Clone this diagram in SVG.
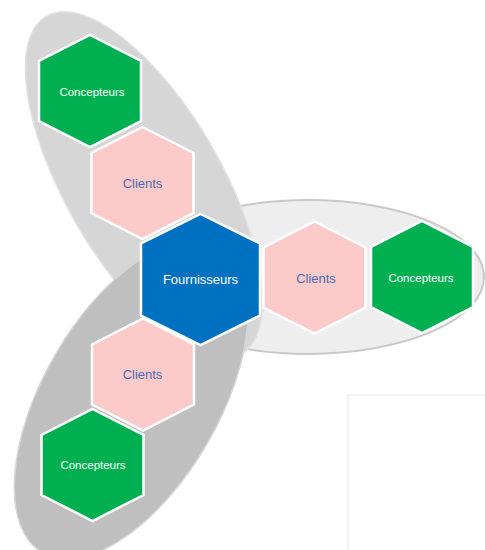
<svg xmlns="http://www.w3.org/2000/svg" width="485" height="550" viewBox="0 0 485 550">
<style>
.hex{stroke:#ffffff;stroke-width:2.5;stroke-linejoin:miter}
.green{fill:#00b050}
.pink{fill:#fdcaca}
.blue{fill:#0070c0}
.lbl{font-family:"Liberation Sans",Arial,sans-serif;text-anchor:middle}
.w{fill:#ffffff;font-size:11.5px}
.c{fill:#4a6cb3;font-size:13px}
.f{fill:#ffffff;font-size:13px}
</style>
<defs>
<path id="hs" d="M0,-56 L51,-30 L51,30 L0,56 L-51,30 L-51,-30 Z"/>
<path id="hb" d="M0,-65.5 L59.5,-36 L59.5,36 L0,65.5 L-59.5,36 L-59.5,-36 Z"/>
</defs>
<rect width="485" height="550" fill="#ffffff"/>
<path d="M348,550 L348,395 L485,395" fill="none" stroke="#f1f1f1" stroke-width="1.5"/>
<g id="zones">
<ellipse cx="308" cy="277" rx="176" ry="77" fill="#eeeeee" stroke="#c9c9c9" stroke-width="2"/>
<ellipse cx="0" cy="0" rx="195" ry="78" transform="translate(144,185) rotate(60)" fill="#d6d6d6" stroke="#e2e2e2" stroke-width="1.5"/>
<ellipse cx="0" cy="0" rx="177.5" ry="88" transform="translate(131.25,399.1) rotate(-60)" fill="#bfbfbf" stroke="#d6d6d6" stroke-width="1.5"/>
</g>
<g id="connectors"></g>
<g id="concepteurs-top">
<use href="#hs" x="90" y="91" class="hex green"/>
<text x="92" y="95.5" class="lbl w">Concepteurs</text>
</g>
<g id="clients-top">
<use href="#hs" x="142.5" y="183" class="hex pink"/>
<text x="142.5" y="187.5" class="lbl c">Clients</text>
</g>
<g id="fournisseurs">
<use href="#hb" x="200.5" y="279.5" class="hex blue"/>
<text x="200.5" y="284" class="lbl f">Fournisseurs</text>
</g>
<g id="clients-right">
<use href="#hs" x="314.5" y="277.5" class="hex pink"/>
<text x="316" y="282.5" class="lbl c">Clients</text>
</g>
<g id="concepteurs-right">
<use href="#hs" x="422" y="277" class="hex green"/>
<text x="421" y="281.5" class="lbl w">Concepteurs</text>
</g>
<g id="clients-bottom">
<use href="#hs" x="143" y="374.5" class="hex pink"/>
<text x="142.5" y="378.5" class="lbl c">Clients</text>
</g>
<g id="concepteurs-bottom">
<use href="#hs" x="92.5" y="465" class="hex green"/>
<text x="93" y="468.5" class="lbl w">Concepteurs</text>
</g>
</svg>
